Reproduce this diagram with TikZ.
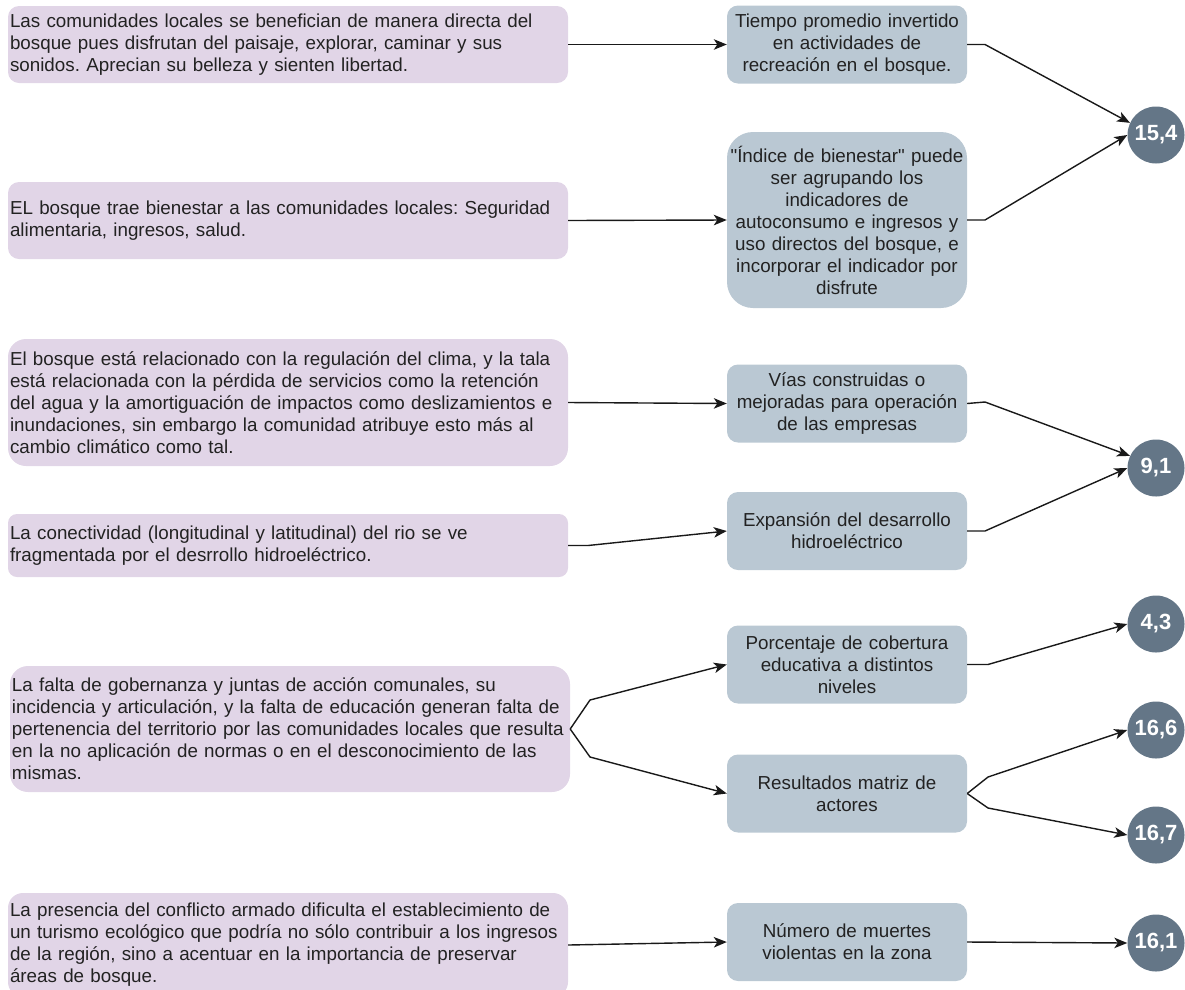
\documentclass[tikz,border=0pt]{standalone}
\usepackage{fontspec}
\setmainfont{Liberation Sans}
\usetikzlibrary{arrows.meta,shapes.geometric}
\definecolor{lboxc}{HTML}{E1D5E7}
\definecolor{mboxc}{HTML}{BAC8D3}
\definecolor{cnodec}{HTML}{647687}
\definecolor{txtc}{HTML}{222222}
\frenchspacing
\newcommand{\txtfont}{\fontsize{18.8}{22}\selectfont\hyphenpenalty=10000\exhyphenpenalty=10000}
\newcommand{\strq}{\XeTeXglyph\XeTeXcharglyph"22\relax}
\tikzset{
  lbox/.style={fill=lboxc, text=txtc, font=\txtfont, align=left,
    text width=556pt, inner xsep=2pt, inner ysep=0pt},
  mbox/.style={fill=mboxc, text=txtc, font=\txtfont, align=center,
    text width=236pt, inner xsep=2pt, inner ysep=0pt, minimum height=78pt, rounded corners=11pt},
  cnum/.style={circle, fill=cnodec, text=white, font=\bfseries\fontsize{22}{24}\selectfont,
    minimum size=57pt, inner sep=0pt},
  conn/.style={draw=black!90, line width=1.4pt, -{Stealth[length=13pt,width=10.5pt,inset=3.5pt]}}
}
\begin{document}
\begin{tikzpicture}[x=1pt,y=-1pt]
\useasboundingbox (0,0) rectangle (1185,989);
% left boxes
\node[lbox, minimum height=77pt, rounded corners=11pt] (L1) at (288,44.5) {Las comunidades locales se benefician de manera directa del\\bosque pues disfrutan del paisaje, explorar, caminar y sus\\sonidos. Aprecian su belleza y sienten libertad.};
\node[lbox, minimum height=77pt, rounded corners=11pt] (L2) at (288,220.5) {EL bosque trae bienestar a las comunidades locales: Seguridad\\alimentaria, ingresos, salud.};
\node[lbox, minimum height=127pt, rounded corners=18pt] (L3) at (288,402.5) {El bosque está relacionado con la regulación del clima, y la tala\\está relacionada con la pérdida de servicios como la retención\\del agua y la amortiguación de impactos como deslizamientos e\\inundaciones, sin embargo la comunidad atribuye esto más al\\cambio climático como tal.};
\node[lbox, minimum height=63pt, rounded corners=9pt] (L4) at (288,545.5) {La conectividad (longitudinal y latitudinal) del rio se ve\\fragmentada por el desrrollo hidroeléctrico.};
\node[lbox, minimum height=126pt, rounded corners=18pt] (L5) at (290,729) {La falta de gobernanza y juntas de acción comunales, su\\\mbox{incidencia y articulación, y la falta de educación generan falta de}\\\mbox{pertenencia del territorio por las comunidades locales que resulta}\\en la no aplicación de normas o en el desconocimiento de las\\mismas.};
\node[lbox, minimum height=104pt, rounded corners=15pt] (L6) at (288,945) {La presencia del conflicto armado dificulta el establecimiento de\\un turismo ecológico que podría no sólo contribuir a los ingresos\\de la región, sino a acentuar en la importancia de preservar\\áreas de bosque.};
% middle boxes
\node[mbox] (M1) at (847,44.5) {Tiempo promedio invertido\\en actividades de\\recreación en el bosque.};
\node[mbox, minimum height=176pt, rounded corners=26pt] (M2) at (847,220) {\strq Índice de bienestar\strq{} puede\\ser agrupando los\\indicadores de\\autoconsumo e ingresos y\\uso directos del bosque, e\\incorporar el indicador por\\disfrute};
\node[mbox] (M3) at (847,403.5) {Vías construidas o\\mejoradas para operación\\de las empresas};
\node[mbox] (M4) at (847,531) {Expansión del desarrollo\\hidroeléctrico};
\node[mbox] (M5) at (847,664.5) {Porcentaje de cobertura\\educativa a distintos\\niveles};
\node[mbox] (M6) at (847,793.5) {Resultados matriz de\\actores};
\node[mbox] (M7) at (847,942) {Número de muertes\\violentas en la zona};
% circles
\node[cnum] (C1) at (1156,135) {15,4};
\node[cnum] (C2) at (1156,468) {9,1};
\node[cnum] (C3) at (1156,624) {4,3};
\node[cnum] (C4) at (1156,730) {16,6};
\node[cnum] (C5) at (1156,835) {16,7};
\node[cnum] (C6) at (1156,943) {16,1};
% knee coordinates
\coordinate (kL4) at (588,545.5);
\coordinate (kL5a) at (590,700);
\coordinate (kL5b) at (590,757);
\coordinate (kM1) at (985,44.5);
\coordinate (kM2) at (985,220);
\coordinate (kM3) at (985,402);
\coordinate (kM4) at (985,531);
\coordinate (kM5) at (988,664.5);
\coordinate (kM6a) at (988,777);
\coordinate (kM6b) at (988,808);
% connectors left -> middle
\draw[conn] (L1.east) -- (M1.west);
\draw[conn] (L2.east) -- (M2.west);
\draw[conn] (L3.east) -- (M3.west);
\draw[conn] (L4.east) -- (kL4) -- (M4.west);
\draw[conn] (L5.east) -- (kL5a) -- (M5.west);
\draw[conn] (L5.east) -- (kL5b) -- (M6.west);
\draw[conn] (L6.east) -- (M7.west);
% connectors middle -> circles
\draw[conn] (M1.east) -- (kM1) -- (C1.155);
\draw[conn] (M2.east) -- (kM2) -- (C1.west);
\draw[conn] (M3.east) -- (kM3) -- (C2.155);
\draw[conn] (M4.east) -- (kM4) -- (C2.west);
\draw[conn] (M5.east) -- (kM5) -- (C3.west);
\draw[conn] (M6.east) -- (kM6a) -- (C4.west);
\draw[conn] (M6.east) -- (kM6b) -- (C5.west);
\draw[conn] (M7.east) -- (C6.west);
\end{tikzpicture}
\end{document}
